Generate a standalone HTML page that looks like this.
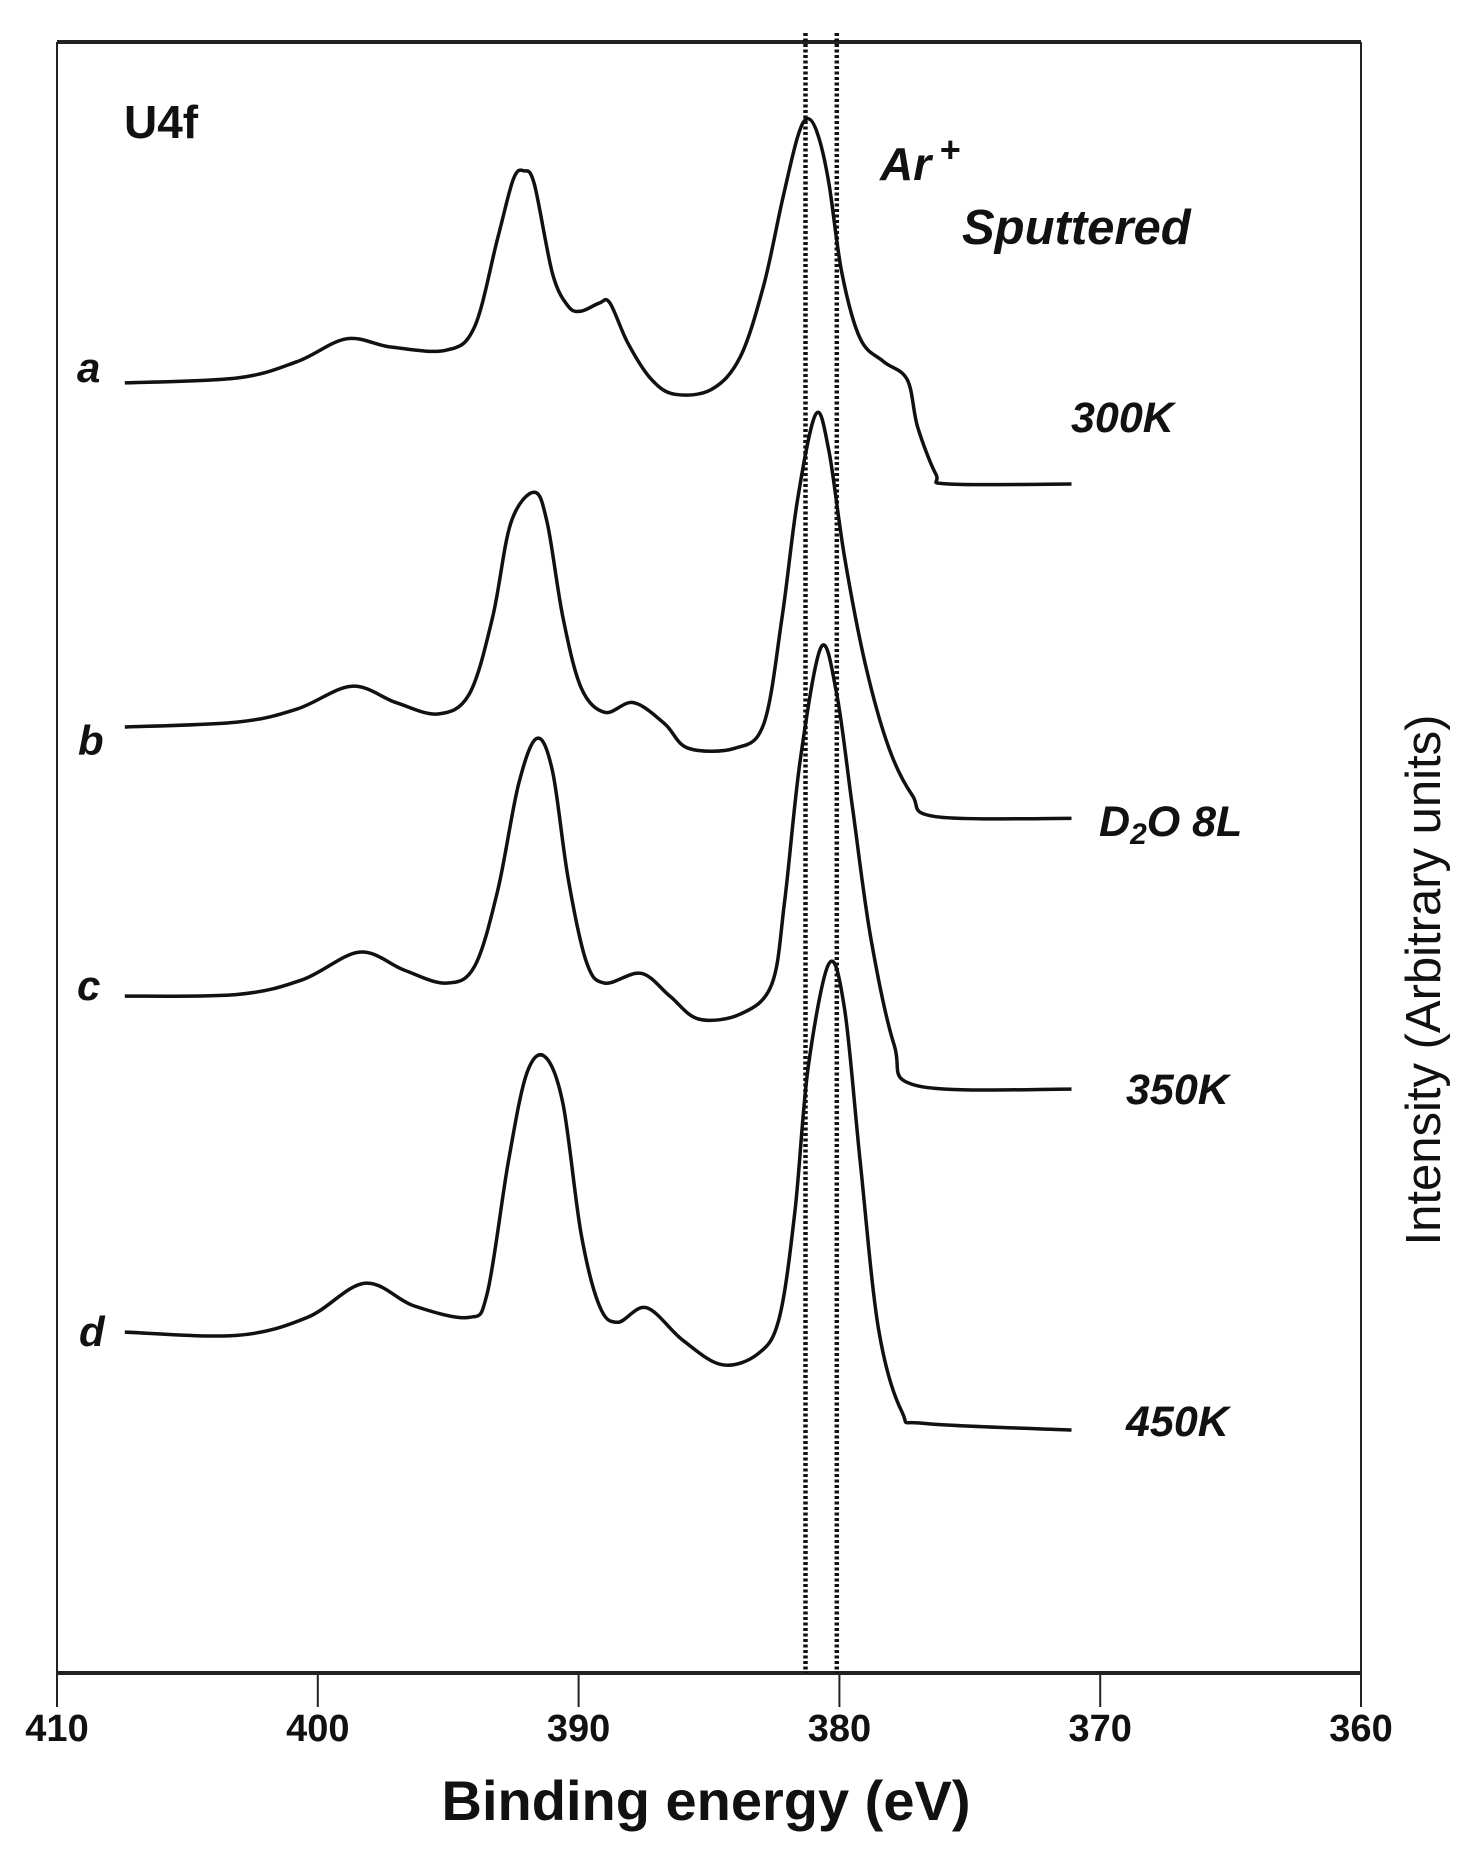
<!DOCTYPE html>
<html><head><meta charset="utf-8"><style>
html,body{margin:0;padding:0;background:#fff}
svg{display:block}
text{font-family:"Liberation Sans",Arial,sans-serif;fill:#111}
</style></head><body>
<svg id="chart" width="1474" height="1858" viewBox="0 0 1474 1858" xmlns="http://www.w3.org/2000/svg">
<g id="frame">
<line x1="57" y1="42" x2="1361" y2="42" stroke="#222" stroke-width="4"/>
<line x1="57" y1="42" x2="57" y2="1673" stroke="#222" stroke-width="2"/>
<line x1="1361" y1="42" x2="1361" y2="1673" stroke="#222" stroke-width="2"/>
<line x1="57" y1="1673" x2="1361" y2="1673" stroke="#222" stroke-width="4"/>
</g>
<g id="ticks"></g>
<g id="refs"></g>
<g id="series"></g>
<text x="124" y="138" font-size="46" font-weight="bold">U4f</text>
<text x="880" y="180" font-size="46" font-weight="bold" font-style="italic">Ar<tspan dx="8" dy="-18" font-size="36">+</tspan></text>
<text x="962" y="244" font-size="49" font-weight="bold" font-style="italic">Sputtered</text>
<text x="1071" y="432" font-size="43" font-weight="bold" font-style="italic">300K</text>
<text x="1099" y="836" font-size="43" font-weight="bold" font-style="italic">D<tspan dy="8" font-size="30">2</tspan><tspan dy="-8">O 8L</tspan></text>
<text x="1126" y="1104" font-size="43" font-weight="bold" font-style="italic">350K</text>
<text x="1126" y="1436" font-size="43" font-weight="bold" font-style="italic">450K</text>
<text x="77" y="382" font-size="42" font-weight="bold" font-style="italic">a</text>
<text x="78" y="755" font-size="42" font-weight="bold" font-style="italic">b</text>
<text x="77" y="1000" font-size="42" font-weight="bold" font-style="italic">c</text>
<text x="79" y="1346" font-size="42" font-weight="bold" font-style="italic">d</text>
<text x="706" y="1820" font-size="56" font-weight="bold" text-anchor="middle">Binding energy (eV)</text>
<text transform="translate(1440,980) rotate(-90)" font-size="49" text-anchor="middle">Intensity (Arbitrary units)</text>
</svg>
<script>
const xTicks=[410,400,390,380,370,360];
const refLines=[381.3,380.1];
const eA=[407.4,403.1,400.8,398.9,397.2,395.1,394.0,393.1,392.5,392.1,391.7,391.0,390.4,389.9,389.2,388.8,388.1,387.2,386.3,384.9,383.8,382.9,382.2,381.6,381.2,380.8,380.4,379.9,379.2,378.3,377.4,377.0,376.3,375.8,371.1];
const vA=[79.1,79.4,80.4,81.8,81.3,81.1,82.5,88.0,91.6,92.1,91.3,85.8,83.8,83.5,84.0,84.0,81.5,79.3,78.4,78.7,80.7,85.1,90.2,94.2,95.3,94.2,91.3,85.8,81.8,80.4,79.3,76.4,73.5,72.9,72.9];
const eB=[407.4,403.1,400.8,398.7,397.0,395.4,394.2,393.3,392.6,391.7,391.2,390.6,389.9,389.0,387.9,386.7,385.8,384.0,382.9,382.2,381.6,380.9,380.4,379.8,379.0,378.1,377.2,376.3,371.1];
const vB=[58.0,58.3,59.1,60.5,59.5,58.8,60.0,64.7,70.5,72.4,70.5,64.7,60.4,58.9,59.5,58.2,56.7,56.7,58.2,64.7,72.0,77.2,74.9,68.4,61.8,56.7,53.8,52.5,52.4];
const eC=[407.4,403.1,400.6,398.4,396.7,395.1,394.0,393.1,392.3,391.6,391.0,390.4,389.7,389.0,387.6,386.5,385.4,383.8,382.6,382.1,381.5,380.7,380.1,379.5,378.8,377.9,377.0,371.1];
const vC=[41.5,41.6,42.5,44.2,43.1,42.3,43.3,48.0,54.5,57.3,55.3,48.7,43.6,42.3,42.9,41.5,40.1,40.4,42.2,47.3,56.0,62.9,60.0,53.1,45.1,38.5,36.0,35.8];
const eD=[407.4,403.1,400.4,398.2,396.3,394.2,393.5,392.7,392.0,391.3,390.6,389.9,389.2,388.5,387.4,386.0,384.5,383.1,382.3,381.7,381.2,380.4,379.8,379.2,378.5,377.6,376.7,371.1];
const vD=[20.9,20.7,21.8,23.9,22.5,21.8,23.3,31.3,36.7,37.8,34.9,26.9,22.5,21.5,22.4,20.4,18.9,19.6,21.8,28.4,37.1,43.5,40.7,31.3,21.1,16.0,15.3,14.9];
const seriesNames=['spectrum-a-300k','spectrum-b-d2o-8l','spectrum-c-350k','spectrum-d-450k'];

const NS='http://www.w3.org/2000/svg';
const X0=57,X1=1361,YB=1673,YT=42;
function xs(e){return X0+(410-e)/50*(X1-X0);}
function ys(v){return YB-v/100*(YB-YT);}
const tg=document.getElementById('ticks');
xTicks.forEach(t=>{
  const l=document.createElementNS(NS,'line');
  l.setAttribute('x1',xs(t));l.setAttribute('x2',xs(t));
  l.setAttribute('y1',YB);l.setAttribute('y2',YB+34);
  l.setAttribute('stroke','#222');l.setAttribute('stroke-width','2');
  
  
  tg.appendChild(l);
  const tx=document.createElementNS(NS,'text');
  tx.setAttribute('x',xs(t));tx.setAttribute('y',YB+68);
  tx.setAttribute('text-anchor','middle');tx.setAttribute('font-size','38');tx.setAttribute('font-weight','bold');
  tx.textContent=t;
  
  
  tg.appendChild(tx);
});
const rg=document.getElementById('refs');
refLines.forEach(r=>{
  const l=document.createElementNS(NS,'line');
  l.setAttribute('x1',xs(r));l.setAttribute('x2',xs(r));
  l.setAttribute('y1',33);l.setAttribute('y2',YB);
  l.setAttribute('stroke','#111');l.setAttribute('stroke-width','4.5');l.setAttribute('stroke-dasharray','3 2.5');
  
  
  rg.appendChild(l);
});
function smooth(pts){
  let d='M'+pts[0][0].toFixed(1)+','+pts[0][1].toFixed(1);
  for(let i=0;i<pts.length-1;i++){
    const p0=pts[Math.max(0,i-1)],p1=pts[i],p2=pts[i+1],p3=pts[Math.min(pts.length-1,i+2)];
    const c1x=p1[0]+(p2[0]-p0[0])/6,c1y=p1[1]+(p2[1]-p0[1])/6;
    const c2x=p2[0]-(p3[0]-p1[0])/6,c2y=p2[1]-(p3[1]-p1[1])/6;
    d+=' C'+c1x.toFixed(1)+','+c1y.toFixed(1)+' '+c2x.toFixed(1)+','+c2y.toFixed(1)+' '+p2[0].toFixed(1)+','+p2[1].toFixed(1);
  }
  return d;
}
const sg=document.getElementById('series');
[[eA,vA],[eB,vB],[eC,vC],[eD,vD]].forEach((s,k)=>{
  const pts=s[0].map((e,i)=>[xs(e),ys(s[1][i])]);
  const p=document.createElementNS(NS,'path');
  p.setAttribute('d',smooth(pts));
  p.setAttribute('fill','none');p.setAttribute('stroke','#111');p.setAttribute('stroke-width','3.5');
  p.setAttribute('stroke-linejoin','round');
  
  
  sg.appendChild(p);
});
</script>
</body></html>
